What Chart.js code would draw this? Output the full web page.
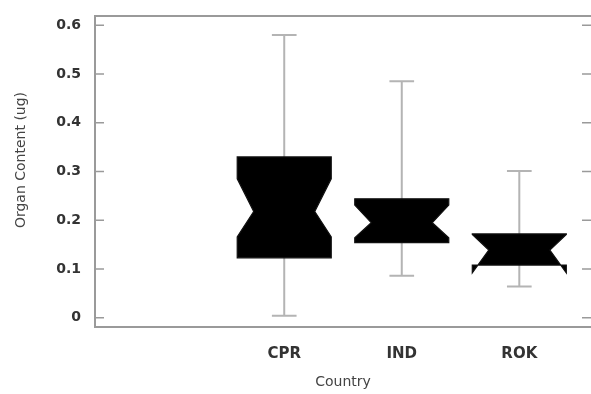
<!DOCTYPE html>
<html>
<head>
<meta charset="utf-8">
<script src="https://cdn.jsdelivr.net/npm/chart.js@4/dist/chart.umd.min.js"></script>
<style>
  html, body { margin: 0; padding: 0; background: #ffffff; }
  #wrap { position: relative; width: 591px; height: 394px; }
</style>
</head>
<body>
<div id="wrap"><canvas id="c"></canvas></div>
<script>
// ---- data ----
const categories   = ["CPR", "IND", "ROK"];
const whiskerLow   = [0.004, 0.086, 0.064];
const quartile1    = [0.123, 0.154, 0.108];
const notchLow     = [0.166, 0.164, 0.092];
const medians      = [0.218, 0.195, 0.139];
const notchHigh    = [0.285, 0.231, 0.171];
const quartile3    = [0.330, 0.244, 0.172];
const whiskerHigh  = [0.580, 0.485, 0.301];
const yTickValues  = [0, 0.1, 0.2, 0.3, 0.4, 0.5, 0.6];
const yTickLabels  = ["0", "0.1", "0.2", "0.3", "0.4", "0.5", "0.6"];
const xTitle = "Country";
const yTitle = "Organ Content (ug)";

// ---- styling ----
const frameColor = "#9a9a9a";
const whiskerColor = "#b4b4b4";
const boxHalf = 0.40, notchHalf = 0.26, capHalf = 0.105;

const notchedBoxPlugin = {
  id: "notchedBoxes",
  beforeDatasetsDraw(chart) {
    const { ctx, scales: { x, y } } = chart;
    ctx.save();
    categories.forEach((c, i) => {
      const v = i + 1;
      const cx = x.getPixelForValue(v);
      const xl = x.getPixelForValue(v - boxHalf), xr = x.getPixelForValue(v + boxHalf);
      const nl = x.getPixelForValue(v - notchHalf), nr = x.getPixelForValue(v + notchHalf);
      const cl = x.getPixelForValue(v - capHalf), cr = x.getPixelForValue(v + capHalf);
      const yMin = y.getPixelForValue(whiskerLow[i]), yMax = y.getPixelForValue(whiskerHigh[i]);
      // whiskers
      ctx.strokeStyle = whiskerColor;
      ctx.lineWidth = 2;
      ctx.beginPath();
      ctx.moveTo(cx, yMax); ctx.lineTo(cx, yMin);
      ctx.moveTo(cl, yMax); ctx.lineTo(cr, yMax);
      ctx.moveTo(cl, yMin); ctx.lineTo(cr, yMin);
      ctx.stroke();
      // notched box
      const q1 = y.getPixelForValue(quartile1[i]), q3 = y.getPixelForValue(quartile3[i]);
      const nlo = y.getPixelForValue(notchLow[i]), nhi = y.getPixelForValue(notchHigh[i]);
      const md = y.getPixelForValue(medians[i]);
      ctx.beginPath();
      ctx.moveTo(xl, q3);
      ctx.lineTo(xl, nhi);
      ctx.lineTo(nl, md);
      ctx.lineTo(xl, nlo);
      ctx.lineTo(xl, q1);
      ctx.lineTo(xr, q1);
      ctx.lineTo(xr, nlo);
      ctx.lineTo(nr, md);
      ctx.lineTo(xr, nhi);
      ctx.lineTo(xr, q3);
      ctx.closePath();
      ctx.fillStyle = "#000000";
      ctx.fill();
      ctx.strokeStyle = "#111111";
      ctx.lineWidth = 1.2;
      ctx.stroke();
    });
    ctx.restore();
  },
  afterDraw(chart) {
    const { ctx, chartArea: a, scales: { y } } = chart;
    ctx.save();
    ctx.strokeStyle = frameColor;
    ctx.lineWidth = 2;
    ctx.beginPath();
    ctx.moveTo(a.left, a.top); ctx.lineTo(a.right + 2, a.top);
    ctx.stroke();
    // inward tick marks, left and right
    ctx.lineWidth = 1.5;
    ctx.beginPath();
    y.ticks.forEach(t => {
      const py = y.getPixelForValue(t.value);
      ctx.moveTo(a.left, py); ctx.lineTo(a.left + 9, py);
      ctx.moveTo(a.right - 9, py); ctx.lineTo(a.right, py);
    });
    ctx.stroke();
    // y axis title
    ctx.translate(21, 160);
    ctx.rotate(-Math.PI / 2);
    ctx.fillStyle = "#444444";
    ctx.font = "14px 'DejaVu Sans'";
    ctx.textAlign = "center";
    ctx.textBaseline = "middle";
    ctx.fillText(yTitle, 0, 0);
    ctx.restore();
  }
};

new Chart(document.getElementById("c"), {
  type: "scatter",
  data: {
    datasets: [{
      data: categories.map((c, i) => ({ x: i + 1, y: medians[i] })),
      pointRadius: 0,
      pointHoverRadius: 0,
      showLine: false
    }]
  },
  options: {
    responsive: true,
    maintainAspectRatio: false,
    animation: false,
    layout: { padding: { top: 16, right: 0, left: 0, bottom: 0 } },
    plugins: { legend: { display: false }, tooltip: { enabled: false } },
    scales: {
      x: {
        type: "linear",
        min: -0.61,
        max: 3.61,
        afterBuildTicks: s => { s.ticks = categories.map((c, i) => ({ value: i + 1 })); },
        afterFit: s => { s.height = 67; s.paddingLeft = 0; s.paddingRight = 0; },
        grid: { display: false, drawTicks: false },
        border: { display: true, color: frameColor, width: 2 },
        ticks: {
          callback: v => categories[v - 1] ?? "",
          color: "#333333",
          font: { family: "'DejaVu Sans'", size: 15, weight: "bold" },
          padding: 18,
          maxRotation: 0
        },
        title: {
          display: true,
          text: xTitle,
          color: "#444444",
          font: { family: "'DejaVu Sans'", size: 14 },
          padding: { top: 0, bottom: 3 }
        }
      },
      y: {
        type: "linear",
        min: -0.019,
        max: 0.619,
        afterBuildTicks: s => { s.ticks = yTickValues.map(v => ({ value: v })); },
        afterFit: s => { s.width = 95; s.paddingTop = 0; s.paddingBottom = 0; },
        grid: { display: false, drawTicks: false },
        border: { display: true, color: frameColor, width: 2 },
        ticks: {
          callback: (v, idx) => yTickLabels[idx],
          color: "#333333",
          font: { family: "'DejaVu Sans'", size: 14, weight: "bold" },
          padding: 14
        }
      }
    }
  },
  plugins: [notchedBoxPlugin]
});
</script>
</body>
</html>
